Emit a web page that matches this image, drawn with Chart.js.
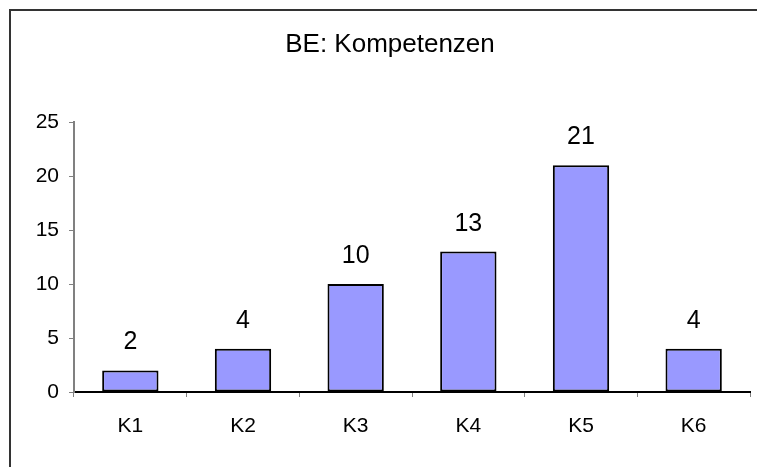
<!DOCTYPE html>
<html>
<head>
<meta charset="utf-8">
<script src="https://cdn.jsdelivr.net/npm/chart.js@4/dist/chart.umd.min.js"></script>
<style>
  html, body { margin: 0; padding: 0; background: #fff; overflow: hidden; }
  #wrap { width: 757px; height: 467px; }
</style>
</head>
<body>
<div id="wrap"><canvas id="bar-chart" width="757" height="467"></canvas></div>
<script>
var categories = ['K1', 'K2', 'K3', 'K4', 'K5', 'K6'];
var values = [2, 4, 10, 13, 21, 4];
var yTicks = [0, 5, 10, 15, 20, 25];
var chartTitle = 'BE: Kompetenzen';

// outer frame (only top and left edges are inside the picture), title and value labels
var extras = {
    id: 'extras',
    beforeDraw: function (chart) {
        var ctx = chart.ctx;
        ctx.save();
        ctx.fillStyle = '#fff';
        ctx.fillRect(0, 0, chart.width, chart.height);
        ctx.strokeStyle = '#333';
        ctx.lineWidth = 2;
        ctx.beginPath();
        ctx.moveTo(10, chart.height);
        ctx.lineTo(10, 10);
        ctx.lineTo(chart.width, 10);
        ctx.stroke();
        ctx.restore();
    },
    afterDatasetsDraw: function (chart) {
        var ctx = chart.ctx;
        var meta = chart.getDatasetMeta(0);
        ctx.save();
        ctx.fillStyle = '#000';
        ctx.textAlign = 'center';
        ctx.textBaseline = 'alphabetic';
        ctx.font = '26px "Liberation Sans", Arial, sans-serif';
        ctx.fillText(chartTitle, 390, 52);
        ctx.font = '25px "Liberation Sans", Arial, sans-serif';
        meta.data.forEach(function (bar, i) {
            ctx.fillText(values[i], bar.x, bar.y - 21);
        });
        ctx.restore();
    }
};

new Chart(document.getElementById('bar-chart').getContext('2d'), {
    type: 'bar',
    data: {
        labels: categories,
        datasets: [{
            data: values,
            backgroundColor: '#9999ff',
            borderColor: '#000',
            borderWidth: 2,
            borderSkipped: false,
            barPercentage: 0.5,
            categoryPercentage: 1
        }]
    },
    options: {
        responsive: false,
        animation: false,
        layout: { padding: { left: 0, top: 122, right: 7, bottom: 0 } },
        plugins: {
            legend: { display: false },
            title: { display: false },
            tooltip: { enabled: false }
        },
        scales: {
            x: {
                offset: true,
                afterFit: function (s) { s.height = 75; },
                grid: {
                    offset: true,
                    drawOnChartArea: false,
                    tickLength: 5,
                    color: '#808080'
                },
                border: { color: '#000', width: 2 },
                ticks: {
                    color: '#000',
                    padding: 17,
                    font: { family: '"Liberation Sans", Arial, sans-serif', size: 21 }
                }
            },
            y: {
                min: 0,
                max: 25,
                afterFit: function (s) { s.width = 74; },
                afterBuildTicks: function (s) {
                    s.ticks = yTicks.map(function (v) { return { value: v }; });
                },
                grid: {
                    drawOnChartArea: false,
                    tickLength: 5,
                    color: '#808080'
                },
                border: { color: '#808080', width: 2 },
                ticks: {
                    color: '#000',
                    padding: 10,
                    font: { family: '"Liberation Sans", Arial, sans-serif', size: 21 }
                }
            }
        }
    },
    plugins: [extras]
});
</script>
</body>
</html>
